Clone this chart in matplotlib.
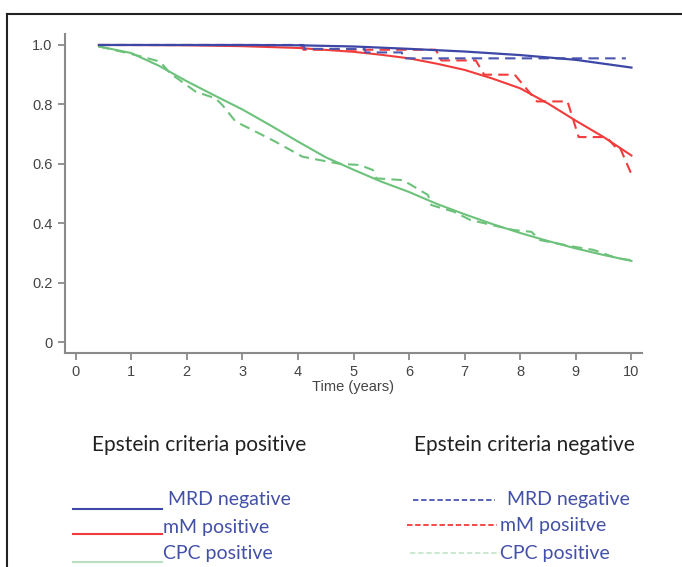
import matplotlib
matplotlib.use("Agg")
import matplotlib.pyplot as plt
from matplotlib.lines import Line2D

# --- data ---
# Epstein criteria positive (smooth curves)
t_blue_pos = [0.42, 2, 3, 4, 5, 6, 7, 8, 9, 10]
s_blue_pos = [1.0, 1.0, 1.0, 0.999, 0.995, 0.987, 0.978, 0.966, 0.950, 0.924]

t_red_pos = [0.42, 1, 2, 3, 4, 5, 5.5, 6, 6.5, 7, 7.5, 8, 8.5, 9, 9.5, 10]
s_red_pos = [1.0, 1.0, 0.999, 0.996, 0.99, 0.977, 0.967, 0.955, 0.937, 0.916, 0.887,
             0.854, 0.803, 0.745, 0.69, 0.628]

t_green_pos = [0.42, 1, 1.5, 2, 2.5, 3, 3.5, 4, 4.5, 5, 5.5, 6, 6.5, 7, 7.5, 8, 8.5, 9, 9.5, 10]
s_green_pos = [0.995, 0.973, 0.93, 0.878, 0.83, 0.783, 0.73, 0.675, 0.622, 0.58, 0.54, 0.505,
               0.465, 0.43, 0.397, 0.367, 0.34, 0.315, 0.293, 0.273]

# Epstein criteria negative (step-like curves)
t_blue_neg = [0.42, 4.1, 4.12, 5.2, 5.22, 5.87, 5.89, 9.9]
s_blue_neg = [1.0, 1.0, 0.987, 0.987, 0.975, 0.975, 0.955, 0.955]

t_red_neg = [0.42, 4.05, 4.1, 6.48, 6.58, 7.2, 7.35, 7.9, 8.3, 8.85, 9.05, 9.55, 9.72, 9.78, 10.0]
s_red_neg = [1.0, 1.0, 0.984, 0.984, 0.948, 0.948, 0.9, 0.9, 0.81, 0.81, 0.69, 0.69, 0.655, 0.66, 0.565]

t_green_neg = [0.42, 1.0, 1.3, 1.52, 1.7, 2.16, 2.52, 2.64, 2.88, 3.18, 3.6, 4.08, 4.38, 4.75, 5.11,
               5.35, 5.41, 5.89, 6.34, 6.4, 6.8, 7.1, 7.88, 8.2, 8.36, 8.96, 9.32, 9.74, 9.98]
s_green_neg = [0.995, 0.97, 0.955, 0.944, 0.905, 0.843, 0.82, 0.798, 0.742, 0.714, 0.674, 0.624,
               0.613, 0.6, 0.596, 0.579, 0.551, 0.545, 0.495, 0.461, 0.439, 0.411, 0.377, 0.371,
               0.343, 0.321, 0.31, 0.282, 0.276]

x_ticks = list(range(0, 11))
y_ticks = [0, 0.2, 0.4, 0.6, 0.8, 1.0]
y_ticklabels = ["0", "0.2", "0.4", "0.6", "0.8", "1.0"]

blue = "#3c47a6"
red = "#f23c3c"
green = "#6cc27a"
label_col = "#4250a8"

plt.rcParams["font.family"] = ["Liberation Sans", "DejaVu Sans"]

fig = plt.figure(figsize=(6.82, 5.67), dpi=100)
ax = fig.add_axes([65 / 682, 1 - 353 / 567, 577 / 682, 319 / 567])

ax.plot(t_green_neg, s_green_neg, color=green, lw=1.5, ls=(0, (5, 3)))
ax.plot(t_green_pos, s_green_pos, color=green, lw=1.5)
ax.plot(t_red_pos, s_red_pos, color=red, lw=1.5)
ax.plot(t_red_neg, s_red_neg, color=red, lw=1.5, ls=(0, (5, 3)))
ax.plot(t_blue_neg, s_blue_neg, color="#4a57b0", lw=1.5, ls=(0, (5, 3)))
ax.plot(t_blue_pos, s_blue_pos, color=blue, lw=1.6)

ax.set_xlim(-0.19, 10.19)
ax.set_ylim(-0.037, 1.037)
ax.set_xticks(x_ticks)
ax.set_yticks(y_ticks)
ax.set_yticklabels(y_ticklabels)
for s in ["top", "right"]:
    ax.spines[s].set_visible(False)
for s in ["left", "bottom"]:
    ax.spines[s].set_color("#8a8a8a")
    ax.spines[s].set_linewidth(1.5)
ax.tick_params(direction="out", length=5, width=1.3, color="#8a8a8a",
               labelsize=10.5, labelcolor="#444444", pad=4)
ax.set_xlabel("Time (years)", fontsize=10.5, color="#444444", labelpad=0)

# frame lines of the original figure
fig.add_artist(Line2D([7 / 682, 1], [1 - 14 / 567] * 2, color="#222222", lw=1.5))
fig.add_artist(Line2D([7 / 682] * 2, [0, 1 - 14 / 567], color="#222222", lw=1.5))

# group headers
hfont = ["Lato", "DejaVu Sans"]
fig.text(199 / 682, 1 - 445 / 567, "Epstein criteria positive", ha="center", va="center",
         fontsize=15, color="#222222", family=hfont)
fig.text(524 / 682, 1 - 445 / 567, "Epstein criteria negative", ha="center", va="center",
         fontsize=15, color="#222222", family=hfont)

# hand-made legend
left_items = [
    ("MRD negative", blue, 73, 162, 509, 168, 500),
    ("mM positive", red, 73, 162, 534, 163, 527),
    ("CPC positive", "#b9e0bf", 73, 162, 562, 163, 553),
]
right_items = [
    ("MRD negative", "#4a57b0", 413, 495, 500, 507, 500),
    ("mM posiitve", red, 407, 497, 525, 500, 525),
    ("CPC positive", "#c6e6cb", 410, 500, 553, 500, 553),
]
for txt, col, x0, x1, yl, xt, yt in left_items:
    fig.add_artist(Line2D([x0 / 682, x1 / 682], [1 - yl / 567] * 2, color=col, lw=1.5))
    fig.text(xt / 682, 1 - yt / 567, txt, ha="left", va="center", fontsize=14,
             color=label_col, family=hfont)
for txt, col, x0, x1, yl, xt, yt in right_items:
    fig.add_artist(Line2D([x0 / 682, x1 / 682], [1 - yl / 567] * 2, color=col, lw=1.3,
                          ls=(0, (3, 1.5))))
    fig.text(xt / 682, 1 - yt / 567, txt, ha="left", va="center", fontsize=14,
             color=label_col, family=hfont)

fig.savefig("out.png", dpi=100)
